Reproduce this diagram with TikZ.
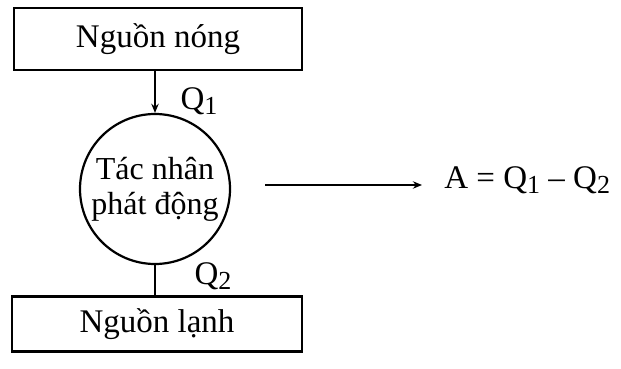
\documentclass[tikz,border=0pt]{standalone}
\usepackage{fontspec}
\setmainfont{Liberation Serif}
\usetikzlibrary{arrows.meta, positioning}
\newcommand{\bodyfont}{\fontsize{16.5}{18}\selectfont}
\newcommand{\qsub}[1]{\raisebox{-0.35ex}{\fontsize{13}{14}\selectfont #1}}
\tikzset{
  srcbox/.style={rectangle, draw, line width=1.1pt, minimum width=144pt, minimum height=31pt, font=\bodyfont},
  agent/.style={circle, draw, line width=1.1pt, minimum size=75pt, inner sep=0pt, align=center, font=\fontsize{16}{17.5}\selectfont},
  lbl/.style={font=\bodyfont, inner sep=1pt},
  flow/.style={line width=1.1pt},
  arr/.style={-{Stealth[length=1.6mm, width=1.3mm]}, line width=1.1pt},
}
\begin{document}
\begin{tikzpicture}[x=0.5pt,y=-0.5pt]
\useasboundingbox (0,0) rectangle (621,369);
\node[srcbox] (hot) at (158,39) {Nguồn nóng};
\node[agent] (eng) at (155,189) {Tác nhân\\phát động};
\node[srcbox, minimum width=145pt, minimum height=27.5pt] (cold) at (157,324) {Nguồn lạnh};
\draw[arr] (eng.north |- hot.south) -- (eng.north);
\draw[flow] (eng.south) -- (eng.south |- cold.north);
\node[lbl] (q1) at (199,101) {Q\qsub{1}};
\node[lbl] (q2) at (213,276) {Q\qsub{2}};

\coordinate (wstart) at (265,185);
\coordinate (wend) at (422,185);
\draw[arr] (wstart) -- (wend);
\node[lbl, anchor=west] (work) at (442,180) {A = Q\qsub{1} – Q\qsub{2}};
\end{tikzpicture}
\end{document}
